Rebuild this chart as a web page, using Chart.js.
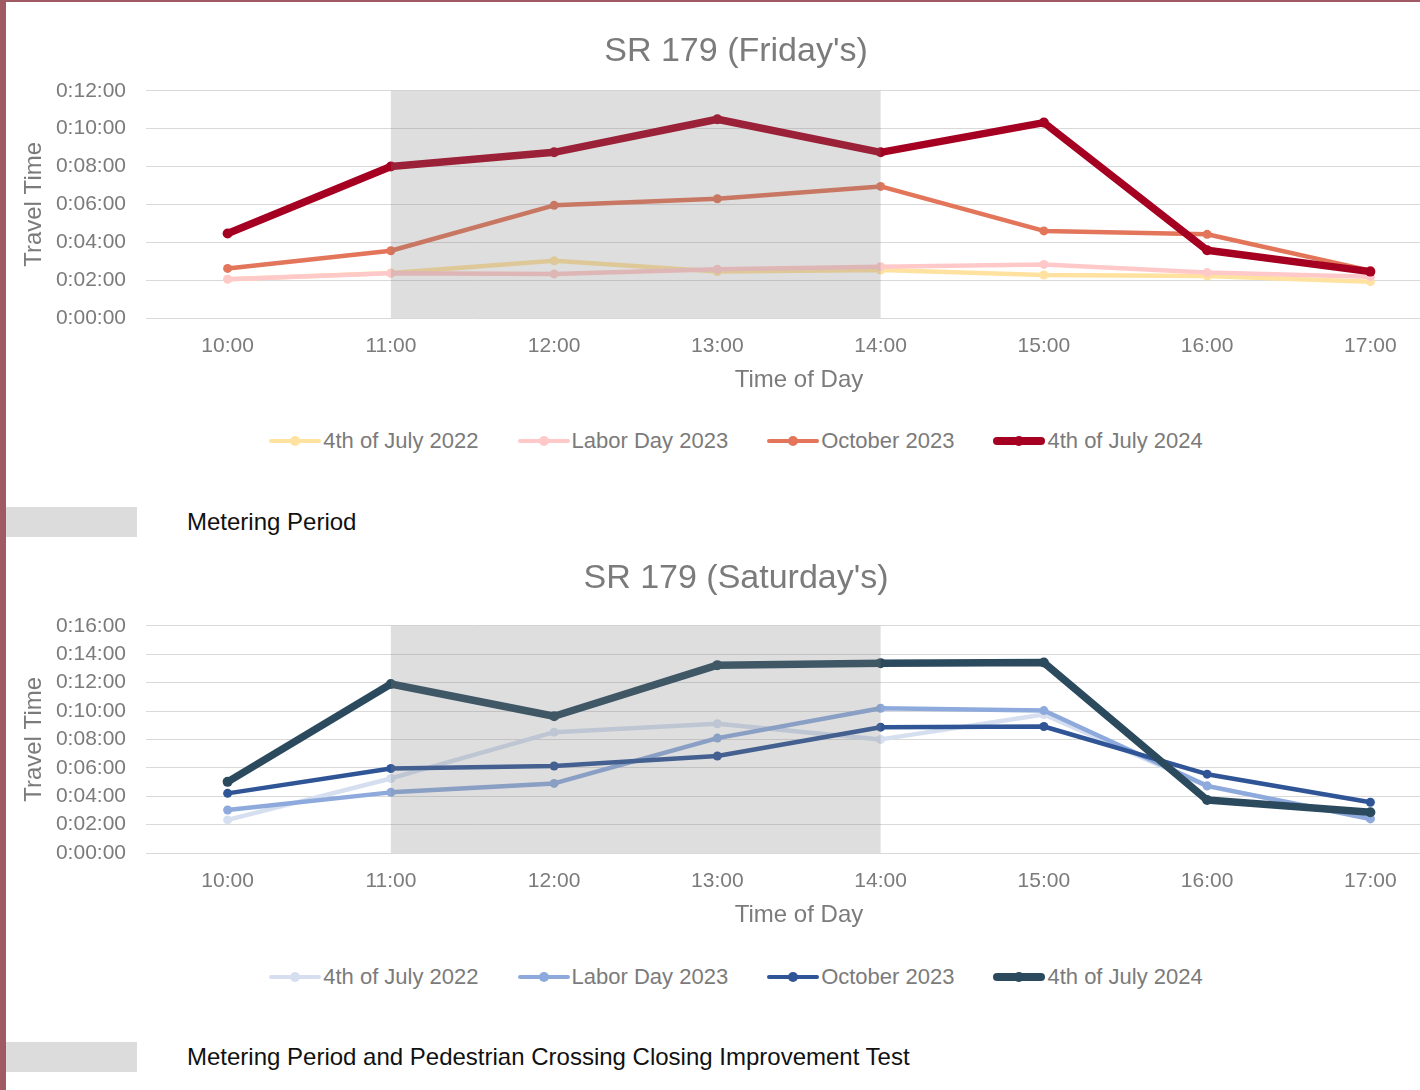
<!DOCTYPE html>
<html>
<head>
<meta charset="utf-8">
<title>SR 179 travel time</title>
<script src="https://cdn.jsdelivr.net/npm/chart.js@4.4.1/dist/chart.umd.min.js"></script>
<style>
html,body{margin:0;padding:0;background:#fff;overflow:hidden;}
body{width:1420px;height:1090px;position:relative;font-family:'Liberation Sans',Arial,sans-serif;}
.frame-left{position:absolute;left:0;top:0;width:6px;height:1090px;background:#a05a63;}
.frame-top{position:absolute;left:0;top:0;width:1420px;height:2px;background:#a05a63;}
.chart{position:absolute;left:6px;width:1460px;height:400px;}
.legend{position:absolute;left:6px;width:1460px;height:30px;display:flex;justify-content:center;align-items:center;gap:39px;font-size:22px;color:#7b7b7b;white-space:nowrap;}
.item{display:flex;align-items:center;}
.swatch{position:relative;width:52px;height:12px;margin-right:2px;}
.swatch .ln{position:absolute;left:0;right:0;top:50%;transform:translateY(-50%);}
.swatch .dot{position:absolute;left:50%;top:50%;width:10px;height:10px;border-radius:50%;transform:translate(-50%,-50%);}
.note{position:absolute;left:6px;width:1000px;height:30px;}
.note .box{position:absolute;left:0;top:0;width:131px;height:30px;background:#dcdcdc;}
.note .txt{position:absolute;left:181px;top:0;line-height:30px;font-size:24px;color:#111;white-space:nowrap;}
</style>
</head>
<body>
<div class="frame-left"></div>
<div class="frame-top"></div>

<div class="chart" style="top:2px"><canvas id="friChart" width="1460" height="400"></canvas></div>
<div class="legend" id="friLegend" style="top:426px"></div>
<div class="note" style="top:507px"><div class="box"></div><div class="txt">Metering Period</div></div>

<div class="chart" style="top:537px"><canvas id="satChart" width="1460" height="400"></canvas></div>
<div class="legend" id="satLegend" style="top:962px"></div>
<div class="note" style="top:1042px"><div class="box"></div><div class="txt">Metering Period and Pedestrian Crossing Closing Improvement Test</div></div>

<script>
// 値は「分」単位（0:02:00 → 2）
const timeLabels=['10:00','11:00','12:00','13:00','14:00','15:00','16:00','17:00'];
const shadeStart='11:00', shadeEnd='14:00';
const seriesNames=['4th of July 2022','Labor Day 2023','October 2023','4th of July 2024'];

// Friday
const friJuly2022=[2.05,2.38,3.02,2.45,2.53,2.27,2.22,1.92];
const friLabor2023=[2.05,2.36,2.33,2.57,2.71,2.83,2.40,2.18];
const friOct2023  =[2.62,3.55,5.95,6.30,6.95,4.60,4.42,2.50];
const friJuly2024 =[4.46,8.00,8.75,10.50,8.75,10.32,3.58,2.45];

// Saturday
const satJuly2022=[2.33,5.25,8.51,9.10,8.00,9.75,4.70,2.45];
const satLabor2023=[3.03,4.27,4.90,8.09,10.19,10.03,4.73,2.40];
const satOct2023  =[4.20,5.95,6.13,6.83,8.86,8.91,5.55,3.57];
const satJuly2024 =[5.01,11.90,9.63,13.23,13.37,13.41,3.73,2.87];

const friColors=['#ffe29f','#ffc9c9','#e2755a','#a50021'];
const satColors=['#d6dff0','#8eaadc','#2f5597','#2b4a5e'];
const lineWidths=[4.5,4.5,4.5,7.5];
const pointSizes=[4.5,4.5,4.5,5];

const textGray='#7b7b7b';
Chart.defaults.font.family="'Liberation Sans', Arial, sans-serif";
Chart.defaults.color=textGray;

const fmtTime=v=>'0:'+String(v).padStart(2,'0')+':00';

// メータリング時間帯の網掛け（線の上に半透明で重ねる）
const meteringShade={
  id:'meteringShade',
  afterDatasetsDraw(chart){
    const {ctx,chartArea:a,scales:{x}}=chart;
    const x0=x.getPixelForValue(timeLabels.indexOf(shadeStart));
    const x1=x.getPixelForValue(timeLabels.indexOf(shadeEnd));
    ctx.save();
    ctx.fillStyle='rgba(128,128,128,0.26)';
    ctx.fillRect(x0,a.top,x1-x0,a.bottom-a.top);
    ctx.restore();
  }
};

function buildLegend(id,colors){
  const el=document.getElementById(id);
  seriesNames.forEach((name,i)=>{
    const it=document.createElement('div');it.className='item';
    const h=lineWidths[i]>5?8:4;
    it.innerHTML=`<span class="swatch"><span class="ln" style="height:${h}px;background:${colors[i]};border-radius:${h/2}px"></span><span class="dot" style="background:${colors[i]}"></span></span><span>${name}</span>`;
    el.appendChild(it);
  });
}

function makeChart(canvasId,title,titlePad,series,colors,yMax){
  return new Chart(document.getElementById(canvasId),{
    type:'line',
    plugins:[meteringShade],
    data:{
      labels:timeLabels,
      datasets:series.map((vals,i)=>({
        label:seriesNames[i],
        data:vals,
        borderColor:colors[i],
        backgroundColor:colors[i],
        pointBackgroundColor:colors[i],
        pointBorderWidth:0,
        pointRadius:pointSizes[i],
        borderWidth:lineWidths[i],
        borderJoinStyle:'round',
        borderCapStyle:'round',
        tension:0,
        order:series.length-1-i,
      }))
    },
    options:{
      responsive:false,
      animation:false,
      layout:{padding:{left:14,right:14,top:0,bottom:0}},
      plugins:{
        legend:{display:false},
        tooltip:{enabled:false},
        title:{display:true,text:title,color:textGray,font:{size:34,weight:'normal'},padding:titlePad}
      },
      scales:{
        x:{
          offset:true,
          grid:{display:false},
          border:{display:false},
          ticks:{font:{size:21},color:textGray,padding:8,maxRotation:0,autoSkip:false},
          title:{display:true,text:'Time of Day',color:textGray,font:{size:24},padding:{top:4,bottom:7}},
          afterFit:s=>{s.height=84;}
        },
        y:{
          min:0,max:yMax,
          grid:{color:'#d9d9d9',lineWidth:1,drawTicks:false},
          border:{display:false},
          ticks:{stepSize:2,font:{size:21},color:textGray,padding:20,callback:fmtTime},
          title:{display:true,text:'Travel Time',color:textGray,font:{size:24},padding:{top:0,bottom:0}},
          afterFit:s=>{s.width=126;}
        }
      }
    }
  });
}

makeChart('friChart',"SR 179 (Friday's)",{top:29,bottom:19},[friJuly2022,friLabor2023,friOct2023,friJuly2024],friColors,12);
makeChart('satChart',"SR 179 (Saturday's)",{top:21,bottom:27},[satJuly2022,satLabor2023,satOct2023,satJuly2024],satColors,16);
buildLegend('friLegend',friColors);
buildLegend('satLegend',satColors);
</script>
</body>
</html>
